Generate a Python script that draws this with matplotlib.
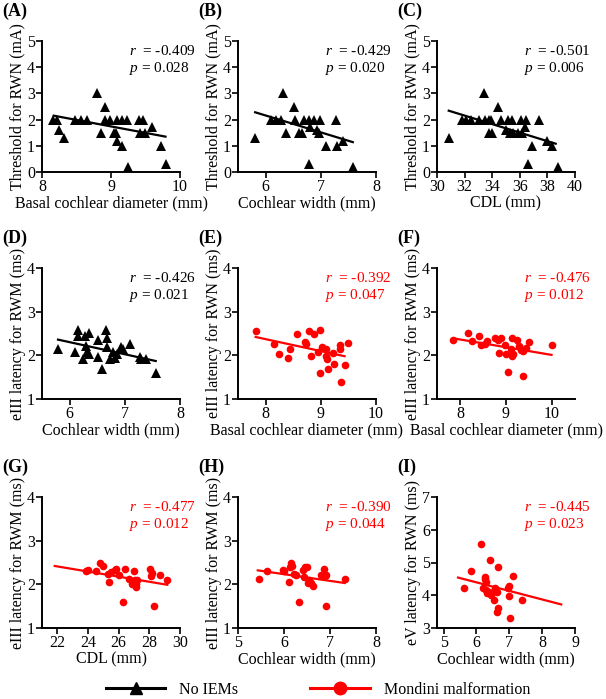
import numpy as np
import matplotlib
matplotlib.use("Agg")
import matplotlib.pyplot as plt
from matplotlib.lines import Line2D

plt.rcParams['font.family'] = ['Liberation Serif', 'DejaVu Serif']
plt.rcParams['mathtext.fontset'] = 'custom'
plt.rcParams['mathtext.it'] = 'Liberation Serif:italic'
plt.rcParams['mathtext.rm'] = 'Liberation Serif'

# ---------- data ----------
# (A) threshold vs basal cochlear diameter, no IEMs
a_x = [8.16, 8.22, 8.25, 8.32, 8.48, 8.57, 8.65, 8.80, 8.86, 8.92, 8.92, 8.98,
       9.05, 9.07, 9.09, 9.09, 9.16, 9.16, 9.23, 9.25, 9.41, 9.42, 9.47, 9.49,
       9.59, 9.72, 9.80]
a_y = [2.0, 2.0, 1.6, 1.3, 2.0, 2.0, 2.0, 3.0, 1.5, 2.5, 2.0, 2.0,
       1.5, 1.5, 1.2, 2.0, 1.0, 2.0, 2.0, 0.2, 2.0, 1.5, 2.0, 1.5,
       1.7, 1.0, 0.3]

# (B) threshold vs cochlear width, no IEMs
b_x = [5.81, 6.10, 6.18, 6.27, 6.31, 6.37, 6.52, 6.54, 6.60, 6.66, 6.69, 6.78,
       6.78, 6.81, 6.87, 6.93, 6.96, 6.99, 7.10, 7.28, 7.29, 7.40, 7.58]
b_y = [1.3, 2.0, 2.0, 2.0, 3.0, 1.5, 2.5, 2.0, 1.5, 1.5, 2.0, 2.0,
       0.3, 1.7, 2.0, 1.6, 1.5, 2.0, 1.0, 2.0, 1.0, 1.2, 0.2]

# (C) threshold vs CDL, no IEMs
c_x = [30.85, 31.84, 32.13, 32.45, 33.03, 33.41, 33.46, 33.78, 33.78, 34.02,
       33.90, 34.43, 34.67, 34.99, 35.16, 35.28, 35.40, 35.52, 35.88, 36.08,
       36.13, 36.37, 36.44, 36.56, 36.85, 37.41, 37.94, 38.35, 38.79]
c_y = [1.3, 2.0, 2.0, 2.0, 2.0, 3.0, 2.0, 2.0, 1.5, 1.5,
       2.0, 2.5, 2.0, 1.6, 2.0, 1.5, 2.0, 1.5, 1.5, 2.0,
       1.5, 1.7, 2.0, 0.3, 1.0, 2.0, 1.2, 1.0, 0.2]

# (D) eIII latency vs cochlear width, no IEMs
d_x = [5.79, 6.09, 6.15, 6.16, 6.24, 6.27, 6.29, 6.31, 6.35, 6.36, 6.51, 6.52,
       6.58, 6.66, 6.68, 6.67, 6.74, 6.79, 6.82, 6.85, 6.94, 6.97, 7.09, 7.27,
       7.30, 7.39, 7.56]
d_y = [2.14, 2.07, 2.57, 2.44, 1.92, 2.44, 2.22, 2.07, 2.52, 2.02, 1.97, 2.36,
       1.68, 2.57, 2.40, 2.19, 1.92, 2.07, 1.93, 2.02, 2.19, 2.14, 2.25, 1.97,
       1.92, 1.92, 1.59]

# (E) eIII latency vs basal cochlear diameter, Mondini
e_x = [7.82, 8.16, 8.25, 8.40, 8.44, 8.57, 8.72, 8.74, 8.78, 8.83, 8.87, 8.98,
       8.99, 8.95, 9.02, 9.10, 9.10, 9.11, 9.13, 9.22, 9.24, 9.34, 9.35, 9.37,
       9.43, 9.49]
e_y = [2.55, 2.26, 2.02, 1.94, 2.14, 2.50, 2.31, 2.27, 2.55, 1.98, 2.50, 1.60,
       2.59, 2.07, 2.19, 2.14, 1.98, 1.91, 1.68, 2.05, 1.80, 2.14, 2.23, 1.39,
       1.78, 2.29]

# (F) eIII latency vs basal cochlear diameter, Mondini
f_x = [7.85, 8.17, 8.27, 8.41, 8.46, 8.54, 8.59, 8.75, 8.83, 8.85, 8.90, 8.97,
       9.01, 9.04, 9.10, 9.12, 9.12, 9.15, 9.24, 9.28, 9.33, 9.36, 9.37, 9.44,
       9.50, 9.99]
f_y = [2.35, 2.52, 2.32, 2.45, 2.24, 2.25, 2.32, 2.40, 2.36, 2.06, 2.40, 2.24,
       2.02, 1.62, 2.14, 2.40, 1.98, 2.02, 2.36, 2.21, 2.13, 2.10, 1.52, 2.16,
       2.31, 2.24]

# (G) eIII latency vs CDL, Mondini
g_x = [23.85, 24.00, 24.50, 24.76, 24.98, 25.30, 25.37, 25.52, 25.74, 25.85,
       26.00, 26.28, 26.39, 26.67, 26.89, 26.98, 27.04, 27.10, 27.15, 27.20,
       28.06, 28.13, 28.17, 28.28, 28.67, 29.17]
g_y = [2.30, 2.33, 2.30, 2.50, 2.43, 2.24, 2.06, 2.28, 2.33, 2.36,
       2.22, 1.60, 2.36, 2.13, 2.01, 2.30, 2.10, 2.01, 1.94, 2.10,
       2.35, 2.19, 2.25, 1.51, 2.22, 2.10]

# (H) eIII latency vs cochlear width, Mondini
h_x = [5.45, 5.64, 5.98, 6.01, 6.10, 6.12, 6.16, 6.17, 6.21, 6.27, 6.33, 6.41,
       6.43, 6.46, 6.51, 6.52, 6.54, 6.58, 6.64, 6.81, 6.88, 6.90, 6.91, 6.92,
       7.32]
h_y = [2.12, 2.30, 2.32, 2.30, 2.06, 2.40, 2.50, 2.42, 2.23, 2.22, 1.60, 2.32,
       2.16, 2.40, 2.40, 2.03, 2.11, 2.03, 1.97, 2.22, 2.35, 2.19, 2.22, 1.51,
       2.12]

# (I) eV latency vs cochlear width, Mondini
i_x = [5.62, 5.82, 6.13, 6.20, 6.25, 6.27, 6.28, 6.30, 6.32, 6.38, 6.42, 6.45,
       6.53, 6.55, 6.58, 6.64, 6.66, 6.64, 6.66, 6.96, 6.98, 6.99, 7.01, 7.11,
       7.39]
i_y = [4.21, 4.74, 5.58, 4.21, 4.56, 4.51, 4.16, 4.39, 4.06, 4.11, 5.09, 4.00,
       3.87, 4.16, 4.21, 4.11, 4.87, 3.50, 3.60, 4.23, 4.29, 3.98, 3.31, 4.59,
       3.87]

# fitted regression lines as drawn in the figure: (x start, x end), (y start, y end)
fit_x = [(8.17, 9.79), (5.81, 7.58), (30.85, 38.6), (5.79, 7.56), (7.82, 9.43),
         (7.85, 9.99), (21.83, 29.17), (5.43, 7.32), (5.44, 8.58)]
fit_y = [(2.15, 1.35), (2.28, 1.14), (2.34, 1.08), (2.36, 1.87), (2.42, 1.98),
         (2.39, 2.01), (2.42, 1.99), (2.32, 2.03), (4.54, 3.72)]

panel_letters = ["(A)", "(B)", "(C)", "(D)", "(E)", "(F)", "(G)", "(H)", "(I)"]
r_values = ["-0.409", "-0.429", "-0.501", "-0.426", "-0.392", "-0.476", "-0.477", "-0.390", "-0.445"]
p_values = ["0.028", "0.020", "0.006", "0.021", "0.047", "0.012", "0.012", "0.044", "0.023"]
x_labels = ["Basal cochlear diameter (mm)", "Cochlear width (mm)", "CDL (mm)",
            "Cochlear width (mm)", "Basal cochlear diameter (mm)", "Basal cochlear diameter (mm)",
            "CDL (mm)", "Cochlear width (mm)", "Cochlear width (mm)"]
y_labels = ["Threshold for RWN (mA)"] * 3 + \
           ["eIII latency for RWM (ms)", "eIII latency for RWN (ms)", "eIII latency for RWM (ms)",
            "eIII latency for RWM (ms)", "eIII latency for RWM (ms)", "eV latency for RWN (ms)"]
x_ticks = [[8, 9, 10], [6, 7, 8], [30, 32, 34, 36, 38, 40],
           [6, 7, 8], [8, 9, 10], [8, 9, 10],
           [22, 24, 26, 28, 30], [5, 6, 7, 8], [5, 6, 7, 8, 9]]
x_lims = [(8, 10), (5.5, 8), (30, 40), (5.5, 8), (7.5, 10), (7.5, 10.5),
          (21, 30), (5, 8), (4.8, 9)]
y_ticks = [[0, 1, 2, 3, 4, 5]] * 3 + [[1, 2, 3, 4]] * 5 + [[3, 4, 5, 6, 7]]
groups = ["none"] * 4 + ["mondini"] * 5

xs = [a_x, b_x, c_x, d_x, e_x, f_x, g_x, h_x, i_x]
ys = [a_y, b_y, c_y, d_y, e_y, f_y, g_y, h_y, i_y]

W, H = 606, 699
fig = plt.figure(figsize=(W / 100, H / 100), dpi=100)

lefts = [42, 238, 437]
tops = [41, 268, 497]
aw, ah = 138, 131

for k in range(9):
    row, col = divmod(k, 3)
    ax = fig.add_axes([lefts[col] / W, (H - tops[row] - ah) / H, aw / W, ah / H])
    color = "black" if groups[k] == "none" else "red"
    marker = "^" if groups[k] == "none" else "o"
    ms = 6.5 if groups[k] == "none" else 5.5

    ax.plot(xs[k], ys[k], linestyle="none", marker=marker, color=color, markersize=ms,
            markeredgewidth=0, clip_on=False)
    ax.plot(fit_x[k], fit_y[k], color=color, lw=1.6)

    ax.set_xlim(*x_lims[k])
    ax.set_ylim(y_ticks[k][0], y_ticks[k][-1])
    ax.set_xticks(x_ticks[k])
    ax.set_yticks(y_ticks[k])
    ax.spines["top"].set_visible(False)
    ax.spines["right"].set_visible(False)
    ax.spines["left"].set_linewidth(1.4)
    ax.spines["bottom"].set_linewidth(1.4)
    ax.tick_params(direction="out", length=4, width=1.2, labelsize=11.5, pad=1)
    ax.set_xlabel(x_labels[k], fontsize=11.5, labelpad=0)
    ax.set_ylabel(y_labels[k], fontsize=11.5, labelpad=1)

    ax.text(0.63, 0.92, "$r$  = " + r_values[k], transform=ax.transAxes,
            fontsize=11, color=color, va="center")
    ax.text(0.63, 0.79, "$p$ = " + p_values[k], transform=ax.transAxes,
            fontsize=11, color=color, va="center")

    fig.text((lefts[col] - 40) / W, 1 - (tops[row] - 30) / H, panel_letters[k],
             fontsize=13, fontweight="bold", va="center", ha="left")

handles = [Line2D([], [], color="black", marker="^", markersize=9, lw=2.2),
           Line2D([], [], color="red", marker="o", markersize=9, lw=2.2)]
fig.legend(handles, ["No IEMs", "Mondini malformation"], loc="center",
           bbox_to_anchor=(0.525, 1 - 690 / H), ncol=2, frameon=False,
           fontsize=11.5, handlelength=3.7, handletextpad=0.9, columnspacing=4.5)

fig.savefig("out.png", dpi=100)
